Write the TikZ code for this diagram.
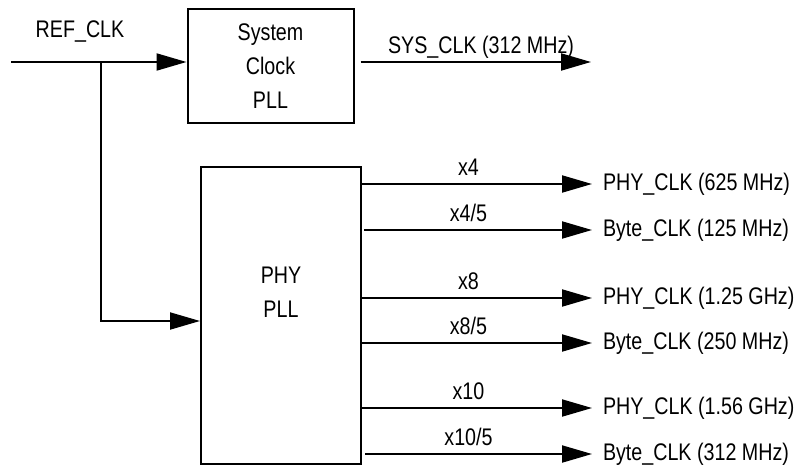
\documentclass[tikz,border=0pt]{standalone}
\usepackage{fontspec}
\setmainfont{Liberation Sans}[FakeStretch=0.82]
\usetikzlibrary{arrows.meta}
\begin{document}
\begin{tikzpicture}[x=1pt,y=-1pt,
  line width=2pt,
  every node/.style={font=\fontsize{24}{34}\selectfont},
  blk/.style={draw, line width=2pt, inner sep=0pt},
  arr/.style={-{Triangle[length=30pt,width=17pt]}},
  outlbl/.style={anchor=west, inner xsep=10pt, inner ysep=0pt},
  ratio/.style={anchor=south, pos=0.463, inner sep=0pt, text height=17.2pt, text depth=0pt, yshift=7.5pt}
]
\useasboundingbox (0,0) rectangle (799,471);
% blocks
\node[blk, minimum width=166pt, minimum height=114pt, align=center] (sys) at (270.5,66) {System\\Clock\\PLL};
\node[blk, minimum width=160pt, minimum height=297pt] (phy) at (281,315.5) {};
\node[align=center] (phytext) at (281,292) {PHY\\PLL};
% reference clock
\coordinate (refin) at (11,62);
\coordinate (junc) at (101,62);
\node (reflbl) at (80,32) {REF\_CLK};
\draw[arr] (refin) -- (refin -| sys.west);
\draw[arr] (junc) |- ([yshift=-5.5pt]phy.west);
% system clock out
\coordinate (sysout) at (591,62);
\draw[arr, shorten <=6pt] (sysout -| sys.east) -- node[ratio, pos=0.535] {SYS\_CLK (312 MHz)} (sysout);
% PHY outputs
\node[outlbl] (o1) at (592,184) {PHY\_CLK (625 MHz)};
\node[outlbl] (o2) at (592,230) {Byte\_CLK (125 MHz)};
\node[outlbl] (o3) at (592,298) {PHY\_CLK (1.25 GHz)};
\node[outlbl] (o4) at (592,343) {Byte\_CLK (250 MHz)};
\node[outlbl] (o5) at (592,408) {PHY\_CLK (1.56 GHz)};
\node[outlbl] (o6) at (592,454) {Byte\_CLK (312 MHz)};
\draw[arr] (phy.east |- o1.west) -- node[ratio] {x4} (o1.west);
\draw[arr, shorten <=2pt] (phy.east |- o2.west) -- node[ratio] {x4/5} (o2.west);
\draw[arr] (phy.east |- o3.west) -- node[ratio] {x8} (o3.west);
\draw[arr] (phy.east |- o4.west) -- node[ratio] {x8/5} (o4.west);
\draw[arr] (phy.east |- o5.west) -- node[ratio] {x10} (o5.west);
\draw[arr, shorten <=3pt] (phy.east |- o6.west) -- node[ratio] {x10/5} (o6.west);
\end{tikzpicture}
\end{document}
